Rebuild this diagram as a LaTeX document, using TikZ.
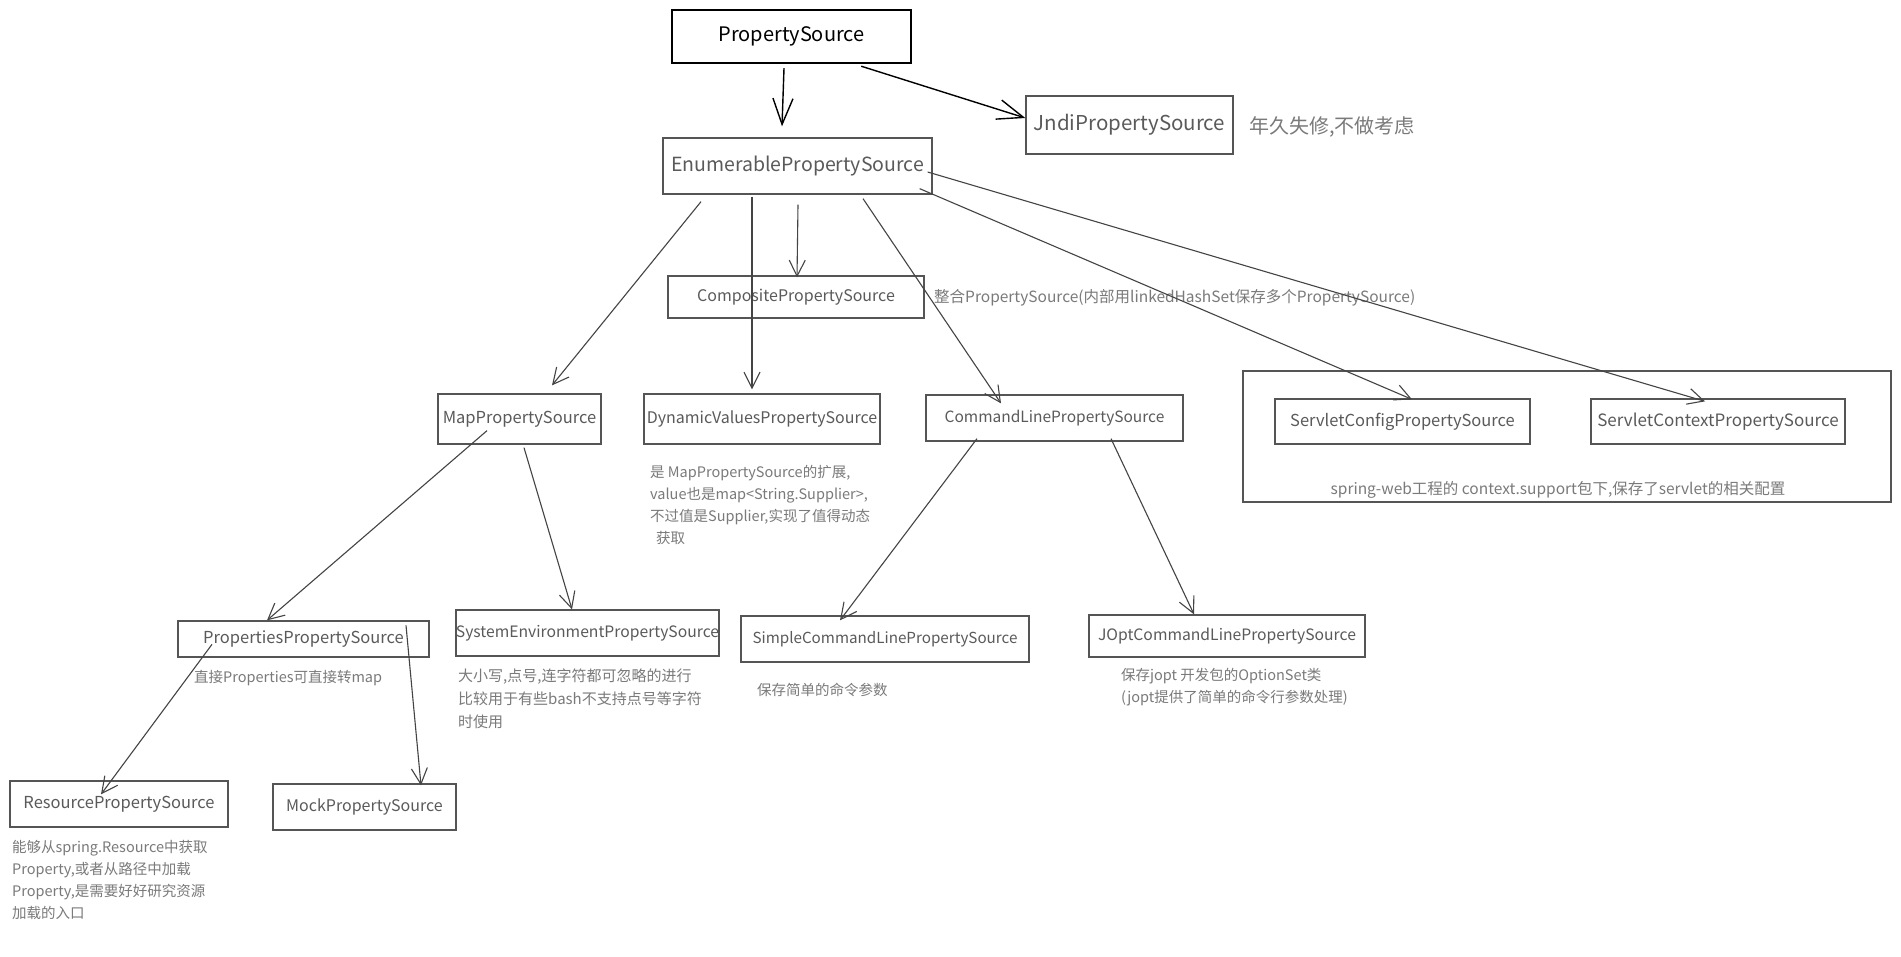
\documentclass[tikz,border=0pt]{standalone}
\usepackage{fontspec}
\setmainfont{Noto Sans CJK SC}
\usetikzlibrary{arrows.meta,calc}
\definecolor{boxline}{HTML}{555555}
\definecolor{boxtext}{HTML}{5A5A5A}
\definecolor{notetext}{HTML}{7A7A7A}
\definecolor{wireline}{HTML}{444444}
\tikzset{
  cls/.style={draw=boxline,line width=1.3pt,fill=white,text=boxtext,inner sep=0pt,font=\fontsize{16}{19}\selectfont},
  topcls/.style={draw=black,line width=2.4pt,text=black,inner sep=0pt,font=\fontsize{20}{24}\selectfont},
  bigcls/.style={cls,font=\fontsize{19.5}{23}\selectfont},
  groupbox/.style={draw=boxline,line width=1.3pt,inner sep=0pt},
  note/.style={text=notetext,inner sep=0pt,align=left,font=\fontsize{14.5}{22}\selectfont},
  inherit/.style={draw=wireline,line width=1.1pt,-{Straight Barb[length=16pt,width=16pt,line width=1.1pt]}},
  biginherit/.style={draw=black,line width=1.4pt,-{Straight Barb[length=26pt,width=20pt,line width=1.4pt]}}
}
\begin{document}
\begin{tikzpicture}[x=1pt,y=-1pt]
\useasboundingbox (0,0) rectangle (1901,956);
\fill[white] (0,0) rectangle (1901,956);
% boxes
\node[topcls,minimum width=239pt,minimum height=53pt] (ps) at (791.5,36.5) {PropertySource};
\node[bigcls,minimum width=207pt,minimum height=58pt,font=\fontsize{20.5}{24}\selectfont] (jndi) at (1129.5,125) {JndiPropertySource};
\node[bigcls,minimum width=269pt,minimum height=56pt] (enum) at (797.5,166) {EnumerablePropertySource};
\node[cls,minimum width=256pt,minimum height=42pt] (comp) at (796,297) {CompositePropertySource};
\node[cls,minimum width=163pt,minimum height=50pt,font=\fontsize{16.5}{19}\selectfont] (map) at (519.5,419) {MapPropertySource};
\node[cls,minimum width=236pt,minimum height=50pt] (dyn) at (762,419) {DynamicValuesPropertySource};
\node[cls,minimum width=257pt,minimum height=46pt,font=\fontsize{15.5}{19}\selectfont] (cmd) at (1054.5,418) {CommandLinePropertySource};
\node[groupbox,minimum width=648pt,minimum height=131pt] (grp) at (1567,436.5) {};
\node[cls,minimum width=255pt,minimum height=45pt,font=\fontsize{16.5}{19}\selectfont] (scfg) at (1402.5,421.5) {ServletConfigPropertySource};
\node[cls,minimum width=254pt,minimum height=45pt,font=\fontsize{17}{19}\selectfont] (sctx) at (1718,421.5) {ServletContextPropertySource};
\node[cls,minimum width=251pt,minimum height=36pt,font=\fontsize{16.5}{19}\selectfont] (props) at (303.5,639) {PropertiesPropertySource};
\node[cls,minimum width=261pt,minimum height=46pt,font=\fontsize{15.7}{19}\selectfont] (sysenv) at (587.5,633) {SystemEnvironmentPropertySource};
\node[cls,minimum width=288pt,minimum height=46pt,font=\fontsize{15.2}{19}\selectfont] (simple) at (885,639) {SimpleCommandLinePropertySource};
\node[cls,minimum width=276pt,minimum height=42pt,font=\fontsize{15.7}{19}\selectfont] (jopt) at (1227,636) {JOptCommandLinePropertySource};
\node[cls,minimum width=218pt,minimum height=46pt,font=\fontsize{16.5}{19}\selectfont] (res) at (119,804) {ResourcePropertySource};
\node[cls,minimum width=183pt,minimum height=46pt] (mock) at (364.5,807) {MockPropertySource};
% notes
\node[note,anchor=west,font=\fontsize{20}{24}\selectfont] (njndi) at (1249,127) {年久失修,不做考虑};
\node[note,anchor=west,font=\fontsize{15.5}{22}\selectfont] (ncomp) at (934,298) {整合PropertySource(内部用linkedHashSet保存多个PropertySource)};
\node[note,font=\fontsize{15.5}{22}\selectfont] (ngrp) at (1558,490) {spring-web工程的 context.support包下,保存了servlet的相关配置};
\node[note,anchor=north west] (ndyn) at (650,465) {是 MapPropertySource的扩展,\\value也是map<String.Supplier>,\\不过值是Supplier,实现了值得动态\\\hspace{6pt}获取};
\node[note,anchor=west] (nprops) at (194,678) {直接Properties可直接转map};
\node[note,anchor=north west,font=\fontsize{15}{23}\selectfont] (nsys) at (458,669) {大小写,点号,连字符都可忽略的进行\\比较用于有些bash不支持点号等字符\\时使用};
\node[note,anchor=west] (nsimple) at (757,690) {保存简单的命令参数};
\node[note,anchor=north west] (njopt) at (1121,668) {保存jopt 开发包的OptionSet类\\(jopt提供了简单的命令行参数处理)};
\node[note,anchor=north west] (nres) at (12,840) {能够从spring.Resource中获取\\Property,或者从路径中加载\\Property,是需要好好研究资源\\加载的入口};
% connectors
\draw[biginherit] ($(ps.south)+(-7.5,4)$) -- ($(enum.north)+(-15.5,-11)$);
\draw[biginherit] ($(ps.south east)+(-51,2)$) -- ($(jndi.west)+(0,-7)$);
\draw[inherit] ($(enum.south)+(-96.5,7)$) -- ($(map.north)+(32.5,-8)$);
\draw[inherit] ($(enum.south)+(-45.5,2)$) -- ($(dyn.north)+(-10,-4)$);
\draw[inherit] ($(enum.south)+(0.5,10)$) -- ($(comp.north)+(1,2)$);
\draw[inherit] ($(enum.south)+(65.5,4)$) -- ($(cmd.north)+(-53.5,9)$);
\draw[inherit] ($(enum.south east)+(-13,-6)$) -- ($(scfg.north)+(9.5,1)$);
\draw[inherit] ($(enum.east)+(-5,6)$) -- ($(sctx.north)+(-13,3)$);
\draw[inherit] ($(map.south)+(-32.5,-14)$) -- ($(props.north)+(-36.5,0)$);
\draw[inherit] ($(map.south)+(4.5,3)$) -- ($(sysenv.north)+(-15.5,0)$);
\draw[inherit] ($(cmd.south)+(-77.5,-3)$) -- ($(simple.north)+(-45,5)$);
\draw[inherit] ($(cmd.south)+(56.5,-3)$) -- ($(jopt.north)+(-33,0)$);
\draw[inherit] ($(props.north)+(-91.5,24)$) -- ($(res.north)+(-18,14)$);
\draw[inherit] ($(props.north)+(102.5,5)$) -- ($(mock.north)+(56.5,2)$);
\end{tikzpicture}
\end{document}
